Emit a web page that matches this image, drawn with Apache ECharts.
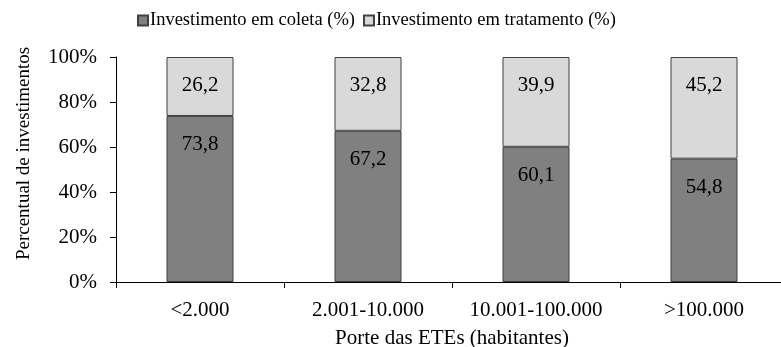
<!DOCTYPE html>
<html>
<head>
<meta charset="utf-8">
<script src="https://cdn.jsdelivr.net/npm/echarts@6/dist/echarts.min.js"></script>
<style>
  html, body { margin: 0; padding: 0; background: #fff; }
  #chart { width: 781px; height: 347px; }
</style>
</head>
<body>
<div id="chart"></div>
<script>
var categories = ['<2.000', '2.001-10.000', '10.001-100.000', '>100.000'];
var coleta = [73.8, 67.2, 60.1, 54.8];
var tratamento = [26.2, 32.8, 39.9, 45.2];
var seriesNames = ['Investimento em coleta (%)', 'Investimento em tratamento (%)'];

var serif = "'Liberation Serif', 'Times New Roman', serif";

function fmt(p) {
    return p.value.toFixed(1).replace('.', ',');
}

var myChart = echarts.init(document.getElementById('chart'));
var option = {
    animation: false,
    textStyle: {
        fontFamily: serif,
        color: '#000'
    },
    legend: {
        data: seriesNames,
        top: 6,
        left: 132,
        itemWidth: 10,
        itemHeight: 10,
        itemGap: 8,
        icon: 'rect',
        textStyle: {
            fontFamily: serif,
            fontSize: 18.5,
            color: '#000',
            padding: [0, 0, 0, -3]
        }
    },
    grid: {
        left: 116,
        top: 57,
        width: 672,
        height: 225,
        containLabel: false,
        outerBoundsMode: 'none'
    },
    xAxis: {
        type: 'category',
        data: categories,
        name: 'Porte das ETEs (habitantes)',
        nameLocation: 'middle',
        nameGap: 46,
        nameTextStyle: { fontFamily: serif, fontSize: 21, color: '#000' },
        axisLine: { lineStyle: { color: '#000', width: 1 } },
        axisTick: { show: true, length: 6, lineStyle: { color: '#000' } },
        axisLabel: { fontFamily: serif, fontSize: 21, color: '#000', margin: 18, interval: 0 }
    },
    yAxis: {
        type: 'value',
        min: 0,
        max: 100,
        interval: 20,
        name: 'Percentual de investimentos',
        nameLocation: 'middle',
        nameGap: 82,
        nameTextStyle: {
            fontFamily: serif, fontSize: 19, color: '#000',
            padding: [0, 0, 0, 32]
        },
        splitLine: { show: false },
        axisLine: { show: true, lineStyle: { color: '#000', width: 1 } },
        axisTick: { show: true, length: 6, lineStyle: { color: '#000' } },
        axisLabel: {
            fontFamily: serif, fontSize: 21, color: '#000', margin: 19,
            formatter: '{value}%'
        }
    },
    series: [
        {
            name: seriesNames[0],
            type: 'bar',
            stack: 'total',
            barWidth: 67,
            data: coleta,
            itemStyle: { color: '#808080', borderColor: '#404040', borderWidth: 1 },
            label: {
                show: true,
                position: 'insideTop',
                distance: 18,
                fontFamily: serif,
                fontSize: 21,
                color: '#000',
                formatter: fmt
            }
        },
        {
            name: seriesNames[1],
            type: 'bar',
            stack: 'total',
            barWidth: 67,
            data: tratamento,
            itemStyle: { color: '#d9d9d9', borderColor: '#404040', borderWidth: 1 },
            label: {
                show: true,
                position: 'insideTop',
                distance: 18,
                fontFamily: serif,
                fontSize: 21,
                color: '#000',
                formatter: fmt
            }
        }
    ]
};
myChart.setOption(option);
</script>
</body>
</html>
